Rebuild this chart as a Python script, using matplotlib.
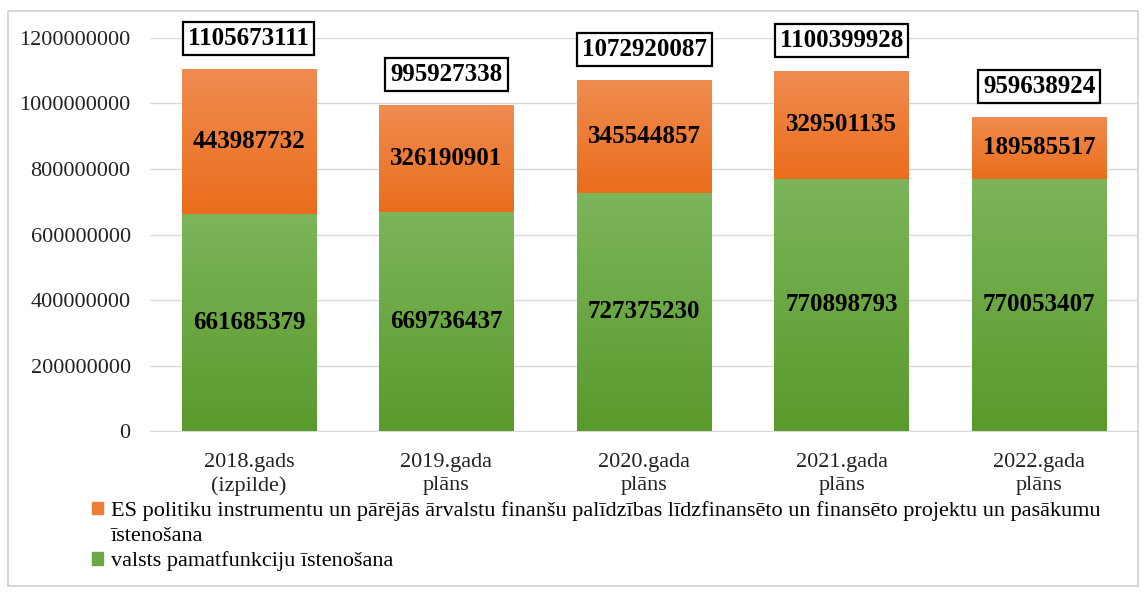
import matplotlib.pyplot as plt
import numpy as np
from matplotlib.colors import LinearSegmentedColormap
from matplotlib.patches import Rectangle, Patch

categories = ["2018.gads\n(izpilde)", "2019.gada\nplāns", "2020.gada\nplāns",
              "2021.gada\nplāns", "2022.gada\nplāns"]
valsts = [661685379, 669736437, 727375230, 770898793, 770053407]
es_proj = [443987732, 326190901, 345544857, 329501135, 189585517]
totals = [1105673111, 995927338, 1072920087, 1100399928, 959638924]

label_es = "ES politiku instrumentu un pārējās ārvalstu finanšu palīdzības līdzfinansēto un finansēto projektu un pasākumu"
label_es_cont = "īstenošana"
label_valsts = "valsts pamatfunkciju īstenošana"

plt.rcParams['font.family'] = ['Liberation Serif', 'DejaVu Serif']

fig = plt.figure(figsize=(11.46, 5.93), dpi=100)
ax = fig.add_axes([0.131, 0.273, 0.862, 0.663])

x = np.arange(len(categories))
w = 0.68

green_cm = LinearSegmentedColormap.from_list("g", ["#5a9a2c", "#7cb55a"])
orange_cm = LinearSegmentedColormap.from_list("o", ["#ea6d1c", "#f08c50"])
grad = np.linspace(0, 1, 256).reshape(-1, 1)

bars_g = ax.bar(x, valsts, w, color="#6aa843", zorder=2)
bars_o = ax.bar(x, es_proj, w, bottom=valsts, color="#ee7d36", zorder=2)

for bars, cm in ((bars_g, green_cm), (bars_o, orange_cm)):
    for b in bars:
        x0, y0 = b.get_x(), b.get_y()
        im = ax.imshow(grad, cmap=cm, origin="lower", aspect="auto",
                       extent=(x0, x0 + b.get_width(), y0, y0 + b.get_height()), zorder=3)
        im.set_clip_path(b)

for i in range(len(categories)):
    ax.text(x[i], valsts[i] / 2, f"{valsts[i]}", ha="center", va="center",
            fontsize=18, fontweight="bold", zorder=5)
    ax.text(x[i], valsts[i] + es_proj[i] / 2, f"{es_proj[i]}", ha="center", va="center",
            fontsize=18, fontweight="bold", zorder=5)
    ax.text(x[i], totals[i] + 0.092e9, f"{totals[i]}", ha="center", va="center",
            fontsize=18, fontweight="bold", zorder=5, clip_on=False,
            bbox=dict(boxstyle="square,pad=0.2", fc="white", ec="black", lw=1.6))

ax.set_xlim(-0.5, 4.5)
ax.set_ylim(0, 1.2e9)
yt = np.arange(0, 1.2e9 + 1, 2e8)
ax.set_yticks(yt)
ax.set_yticklabels([f"{int(v)}" for v in yt], fontsize=16, color="#222222")
ax.set_xticks(x)
ax.set_xticklabels(categories, fontsize=16, color="#222222", linespacing=1.28)
ax.yaxis.grid(True, color="#d9d9d9", lw=1, zorder=0)
ax.tick_params(length=0)
ax.tick_params(axis="y", pad=14)
ax.tick_params(axis="x", pad=16)
for s in ["top", "right", "left"]:
    ax.spines[s].set_visible(False)
ax.spines["bottom"].set_color("#d9d9d9")

handles = [Patch(color="#ee7d36"), Patch(color="none"), Patch(color="#6aa843")]
fig.legend(handles, [label_es, label_es_cont, label_valsts], loc="upper left",
           bbox_to_anchor=(0.08, 0.155), frameon=False, fontsize=16,
           handlelength=0.5, handleheight=0.5, handletextpad=0.35,
           labelspacing=0.25, borderaxespad=0, borderpad=0)

fig.add_artist(Rectangle((0.007, 0.012), 0.986, 0.97, transform=fig.transFigure,
                         fill=False, ec="#d0d0d0", lw=1.2))

fig.savefig("out.png", dpi=100)
